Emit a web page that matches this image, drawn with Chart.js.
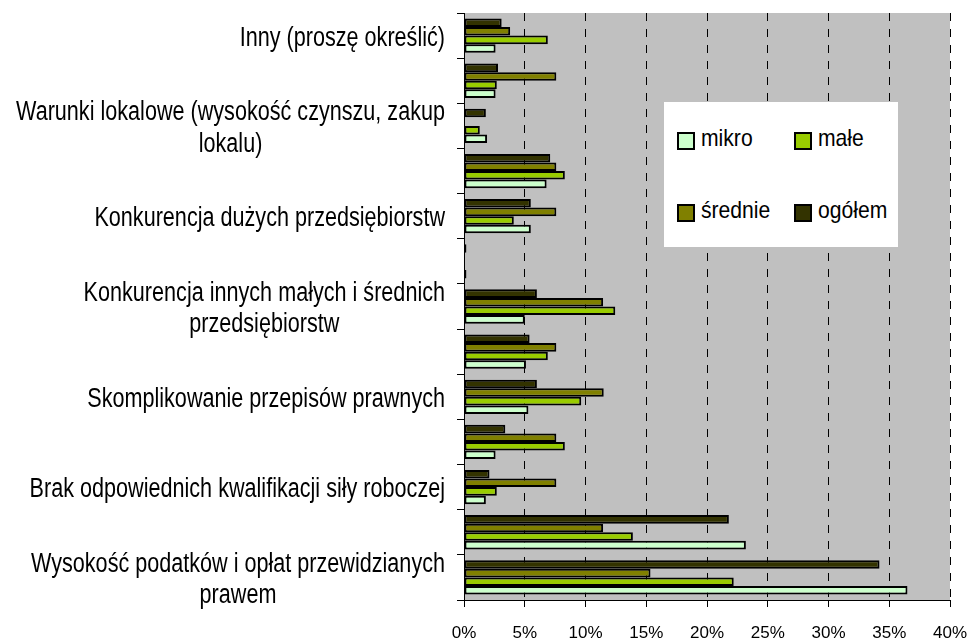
<!DOCTYPE html>
<html lang="pl">
<head>
<meta charset="UTF-8">
<title>Bariery</title>
<script src="https://cdn.jsdelivr.net/npm/chart.js@4.4.1/dist/chart.umd.min.js"></script>
<style>
  body { margin: 0; background: #fff; }
  #wrap { position: relative; width: 967px; height: 642px; }
  #legend {
    position: absolute; left: 664px; top: 102px; width: 234px; height: 145px;
    background: #fff; font-family: "Liberation Sans", Arial, sans-serif; font-size: 24px;
  }
  .item { position: absolute; height: 24px; line-height: 24px; white-space: nowrap; }
  .box { position: absolute; left: 0; top: 3px; width: 14px; height: 14px; border: 2px solid #000; }
  .txt { position: absolute; left: 24px; top: -3px; display: inline-block; transform: scaleX(0.88); transform-origin: left center; }
</style>
</head>
<body>
<div id="wrap">
  <canvas id="chart" width="967" height="642"></canvas>
  <div id="legend"></div>
</div>

<script>
    // categories top to bottom; only every other one carries a label
    const categories = [
        ['Inny (proszę określić)'],
        [''],
        ['Warunki lokalowe (wysokość czynszu, zakup', 'lokalu)'],
        [''],
        ['Konkurencja dużych przedsiębiorstw'],
        [''],
        ['Konkurencja innych małych i średnich', 'przedsiębiorstw'],
        [''],
        ['Skomplikowanie przepisów prawnych'],
        [''],
        ['Brak odpowiednich kwalifikacji siły roboczej'],
        [''],
        ['Wysokość podatków i opłat przewidzianych', 'prawem']
    ];

    const mikro   = [2.6, 2.6, 1.9, 6.8, 5.5, 0.2, 5.0, 5.1, 5.3, 2.6, 1.8, 23.2, 36.5];
    const male    = [6.9, 2.7, 1.3, 8.3, 4.1, 0, 12.45, 6.9, 9.65, 8.3, 2.7, 13.9, 22.2];
    const srednie = [3.8, 7.6, 0, 7.6, 7.6, 0, 11.45, 7.6, 11.5, 7.6, 7.6, 11.45, 15.35];
    const ogolem  = [3.1, 2.8, 1.8, 7.1, 5.5, 0.2, 6.0, 5.4, 6.0, 3.4, 2.1, 21.8, 34.2];

    const xTicks = [0, 5, 10, 15, 20, 25, 30, 35, 40];

    const colors = {mikro: '#ccffcc', male: '#99cc00', srednie: '#808000', ogolem: '#333300'};

    const FONT = '"Liberation Sans", Arial, sans-serif';

    // legend (mikro, małe / średnie, ogółem)
    const legendItems = [
        {label: 'mikro', color: colors.mikro, x: 13, y: 27},
        {label: 'małe', color: colors.male, x: 130, y: 27},
        {label: 'średnie', color: colors.srednie, x: 13, y: 99},
        {label: 'ogółem', color: colors.ogolem, x: 130, y: 99}
    ];
    const legend = document.getElementById('legend');
    legendItems.forEach(it => {
        const d = document.createElement('div');
        d.className = 'item';
        d.style.left = it.x + 'px';
        d.style.top = it.y + 'px';
        d.innerHTML = '<span class="box" style="background:' + it.color + '"></span><span class="txt">' + it.label + '</span>';
        legend.appendChild(d);
    });

    const areaBg = {
        id: 'areaBg',
        beforeDraw(chart) {
            const a = chart.chartArea;
            const ctx = chart.ctx;
            ctx.save();
            ctx.fillStyle = '#c0c0c0';
            ctx.fillRect(a.left, a.top, a.right - a.left, a.bottom - a.top);
            ctx.restore();
        }
    };

    // category labels: right-aligned block, lines centred inside it
    const yLabels = {
        id: 'yLabels',
        afterDraw(chart) {
            const ctx = chart.ctx;
            const yScale = chart.scales.y;
            const SX = 0.8, lh = 31.7;
            ctx.save();
            ctx.font = '27px ' + FONT;
            ctx.fillStyle = '#000';
            ctx.textAlign = 'center';
            ctx.textBaseline = 'alphabetic';
            categories.forEach((lines, i) => {
                const yc = yScale.getPixelForTick(i);
                const maxW = Math.max(...lines.map(l => ctx.measureText(l).width * SX));
                const cx = chart.chartArea.left - 19 - maxW / 2;
                const base = yc + 10 - (lines.length - 1) * lh / 2;
                lines.forEach((l, k) => {
                    ctx.save();
                    ctx.translate(cx, base + k * lh);
                    ctx.scale(SX, 1);
                    ctx.fillText(l, 0, 0);
                    ctx.restore();
                });
            });
            ctx.restore();
        }
    };

    const ds = (label, data, color) => ({
        label: label,
        data: data,
        backgroundColor: color,
        borderColor: '#000',
        borderWidth: 2,
        borderSkipped: false,
        categoryPercentage: 0.76,
        barPercentage: 1.0
    });

    new Chart('chart', {
        type: 'bar',
        data: {
            labels: categories.map(c => c.join(' ')),
            datasets: [
                ds('ogółem', ogolem, colors.ogolem),
                ds('średnie', srednie, colors.srednie),
                ds('małe', male, colors.male),
                ds('mikro', mikro, colors.mikro)
            ]
        },
        options: {
            indexAxis: 'y',
            responsive: false,
            animation: false,
            layout: {padding: {left: 457, top: 13, right: 17, bottom: 0}},
            plugins: {legend: {display: false}, tooltip: {enabled: false}},
            scales: {
                x: {
                    min: 0,
                    max: 40,
                    afterBuildTicks: scale => { scale.ticks = xTicks.map(v => ({value: v})); },
                    afterFit: scale => {
                        scale.height = 42;
                        scale.paddingLeft = 0;
                        scale.paddingRight = 0;
                    },
                    ticks: {
                        callback: v => v + '%',
                        color: '#000',
                        font: {family: FONT, size: 17},
                        padding: 16,
                        maxRotation: 0
                    },
                    grid: {color: '#000', lineWidth: 1, tickLength: 7, drawOnChartArea: true},
                    border: {color: '#000', width: 1, dash: [8, 8]}
                },
                y: {
                    ticks: {display: false},
                    grid: {color: '#000', lineWidth: 1, tickLength: 7, drawOnChartArea: false, offset: true},
                    border: {color: '#000', width: 1}
                }
            }
        },
        plugins: [areaBg, yLabels]
    });
</script>
</body>
</html>
